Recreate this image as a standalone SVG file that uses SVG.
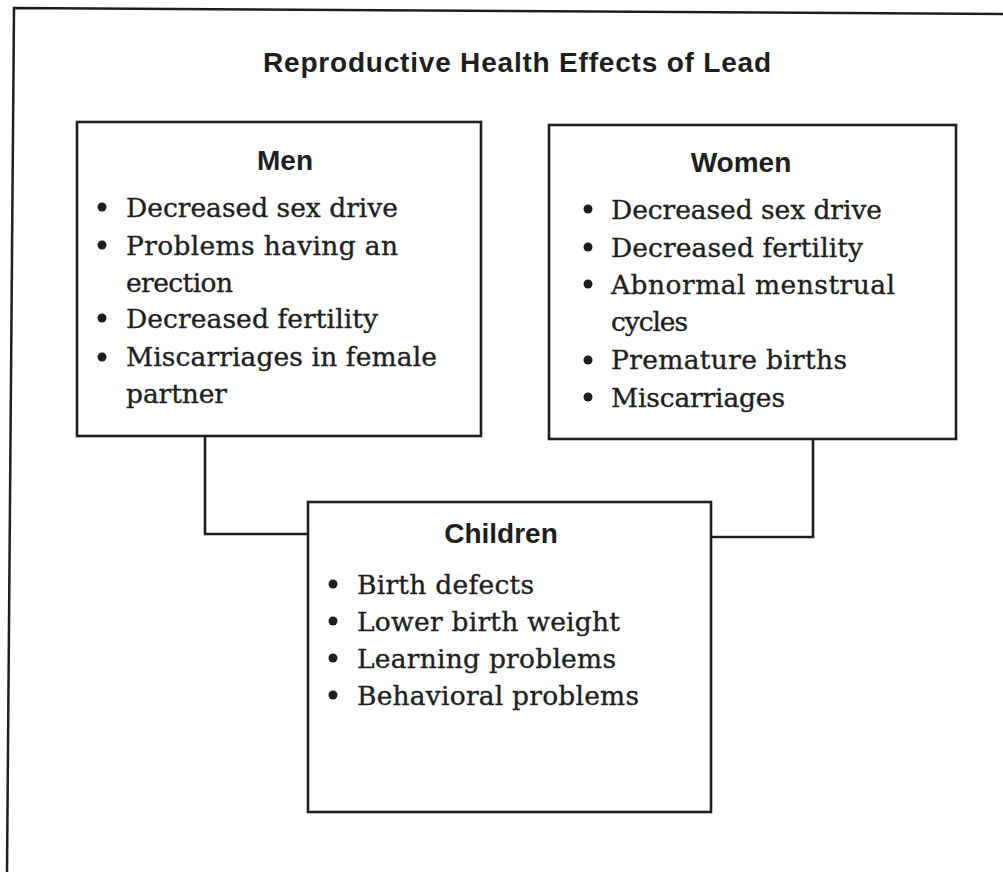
<svg xmlns="http://www.w3.org/2000/svg" width="1003" height="872" viewBox="0 0 1003 872">
<style>
  .frame{fill:none;stroke:#1e1e1e;stroke-width:2.5}
  .box{fill:#fff;stroke:#1e1e1e;stroke-width:2.6}
  .conn{fill:none;stroke:#1e1e1e;stroke-width:2.6}
  .title{font-family:"Liberation Sans",Arial,sans-serif;font-weight:bold;font-size:28px;fill:#1e1e1e;text-anchor:middle}
  .head{font-family:"Liberation Sans",Arial,sans-serif;font-weight:bold;font-size:28px;fill:#1e1e1e;text-anchor:middle}
  .item{font-family:"DejaVu Serif","Liberation Serif",serif;font-size:26.5px;fill:#1e1e1e;stroke:#1e1e1e;stroke-width:0.35}
  .dot{fill:#1e1e1e}
</style>
<rect width="1003" height="872" fill="#fff"/>
<polyline class="frame" points="7,872 14,8 1003,14"/>
<text class="title" x="517" y="72" textLength="508">Reproductive Health Effects of Lead</text>
<g id="connectors">
  <polyline class="conn" points="205,436 205,534 308,534"/>
  <polyline class="conn" points="813,439 813,537 711,537"/>
</g>
<g id="men">
  <rect class="box" x="77" y="122" width="404" height="314"/>
  <text class="head" x="285" y="170">Men</text>
  <circle class="dot" cx="102" cy="207" r="4.5"/>
  <circle class="dot" cx="102" cy="245" r="4.5"/>
  <circle class="dot" cx="102" cy="318" r="4.5"/>
  <circle class="dot" cx="102" cy="357" r="4.5"/>
  <text class="item" x="126" y="217" textLength="272">Decreased sex drive</text>
  <text class="item" x="126" y="255" textLength="272">Problems having an</text>
  <text class="item" x="126" y="292" textLength="107">erection</text>
  <text class="item" x="126" y="328" textLength="252">Decreased fertility</text>
  <text class="item" x="126" y="366" textLength="311">Miscarriages in female</text>
  <text class="item" x="126" y="403" textLength="101">partner</text>
</g>
<g id="women">
  <rect class="box" x="549" y="125" width="407" height="314"/>
  <text class="head" x="741" y="172">Women</text>
  <circle class="dot" cx="588" cy="209" r="4.5"/>
  <circle class="dot" cx="588" cy="247" r="4.5"/>
  <circle class="dot" cx="588" cy="284" r="4.5"/>
  <circle class="dot" cx="588" cy="360" r="4.5"/>
  <circle class="dot" cx="588" cy="397" r="4.5"/>
  <text class="item" x="611" y="219" textLength="271">Decreased sex drive</text>
  <text class="item" x="611" y="257" textLength="252">Decreased fertility</text>
  <text class="item" x="611" y="294" textLength="284">Abnormal menstrual</text>
  <text class="item" x="611" y="331" textLength="77">cycles</text>
  <text class="item" x="611" y="369" textLength="236">Premature births</text>
  <text class="item" x="611" y="407" textLength="174">Miscarriages</text>
</g>
<g id="children">
  <rect class="box" x="308" y="502" width="403" height="310"/>
  <text class="head" x="501" y="543">Children</text>
  <circle class="dot" cx="333" cy="584" r="4.5"/>
  <circle class="dot" cx="333" cy="621" r="4.5"/>
  <circle class="dot" cx="333" cy="658" r="4.5"/>
  <circle class="dot" cx="333" cy="695" r="4.5"/>
  <text class="item" x="357" y="594" textLength="177">Birth defects</text>
  <text class="item" x="357" y="631" textLength="263">Lower birth weight</text>
  <text class="item" x="357" y="668" textLength="259">Learning problems</text>
  <text class="item" x="357" y="705" textLength="282">Behavioral problems</text>
</g>
</svg>
